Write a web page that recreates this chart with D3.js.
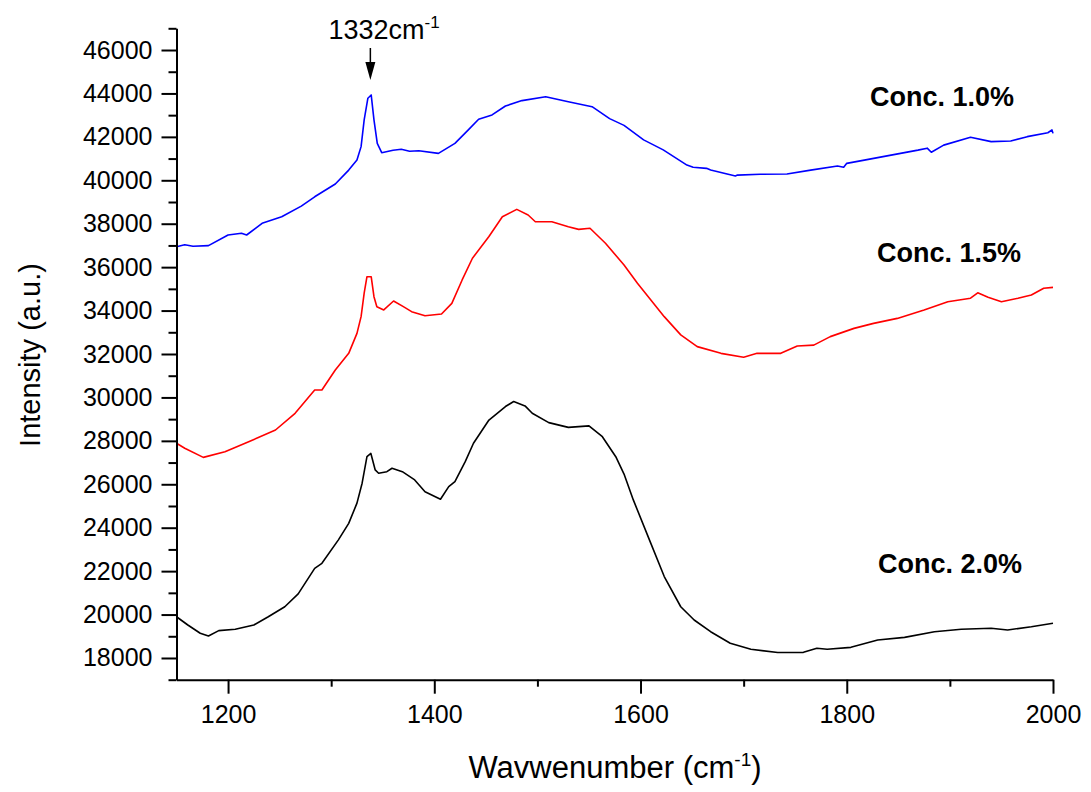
<!DOCTYPE html>
<html>
<head>
<meta charset="utf-8">
<script src="https://cdn.jsdelivr.net/npm/d3@7"></script>
<style>
  html, body { margin: 0; padding: 0; background: #ffffff; }
  svg { display: block; }
  text { font-family: Arial, "Liberation Sans", sans-serif; fill: #000; }
</style>
</head>
<body>
<svg id="chart" width="1091" height="792"></svg>
<script>
// Raman spectra of three samples: wavenumber (cm-1) and intensity (a.u.)
const wnConc10 = [1150,1158,1166,1181,1200,1213,1218,1233,1252,1271,1284,1304,1317,1325,1329,1332,1335.6,1338.8,1341.5,1344.7,1349,1360,1368,1376,1385,1404,1420,1433,1443,1456,1469,1485,1508,1530,1553,1570,1584,1603,1622,1645,1651,1664,1668,1692,1694,1716,1742,1765,1791,1797,1800,1817,1843,1869,1878,1882,1894,1920,1940,1959,1975,1995,1999,2000];
const intConc10 = [36940,37030,36960,36990,37480,37560,37480,38020,38320,38810,39240,39830,40470,40930,41550,42780,43780,43930,42780,41700,41270,41380,41430,41340,41360,41240,41700,42320,42810,43010,43420,43670,43850,43620,43390,42840,42530,41860,41400,40700,40600,40550,40470,40200,40240,40280,40290,40470,40660,40600,40780,40930,41160,41390,41480,41290,41620,41980,41780,41810,42010,42190,42320,42160];

const wnConc15 = [1150,1158,1176,1197,1220,1246,1265,1284,1291,1304,1317,1325,1329,1332,1334.7,1338.8,1341.5,1344.3,1351,1360.5,1370,1378,1391,1407,1417,1427,1437,1453,1466,1480,1491,1498,1514,1530,1540,1551,1566,1584,1597,1610,1623,1639,1655,1678,1700,1713,1736,1752,1768,1784,1807,1826,1849,1875,1898,1920,1927,1937,1950,1966,1979,1991,2000];
const intConc15 = [27890,27660,27240,27500,27960,28500,29270,30340,30340,31260,32030,32950,33720,34800,35560,35560,34640,34180,34030,34440,34180,33950,33760,33840,34330,35410,36410,37410,38320,38660,38400,38090,38090,37860,37740,37790,37100,36100,35260,34490,33720,32880,32340,32030,31850,32030,32030,32370,32410,32800,33180,33410,33640,34030,34410,34570,34820,34610,34410,34570,34720,35030,35070];

const wnConc20 = [1150,1161,1173,1181,1191,1207,1225,1239,1255,1268,1284,1291,1307,1317,1325,1330,1334.7,1338.5,1342.7,1346,1354,1359,1369,1381,1391,1406,1414,1420,1430,1438,1453,1469,1477,1488,1495,1511,1530,1550,1563,1576,1584,1593,1610,1623,1639,1652,1668,1687,1707,1733,1758,1771,1781,1804,1830,1856,1885,1911,1940,1956,1979,2000];
const intConc20 = [19900,19520,19140,19010,19260,19320,19520,19900,20360,20950,22130,22360,23440,24200,25130,26050,27270,27420,26660,26510,26580,26740,26580,26200,25660,25310,25890,26120,27040,27890,28960,29580,29810,29610,29270,28840,28620,28690,28190,27270,26470,25280,23280,21750,20360,19750,19210,18680,18400,18250,18260,18450,18400,18490,18830,18950,19210,19320,19370,19290,19440,19600];

// Axis ticks
const xMajorTicks = [1200,1400,1600,1800,2000];
const xMinorTicks = [1300,1500,1700,1900];
const yMajorTicks = [18000,20000,22000,24000,26000,28000,30000,32000,34000,36000,38000,40000,42000,44000,46000];
const yMinorTicks = [17000,19000,21000,23000,25000,27000,29000,31000,33000,35000,37000,39000,41000,43000,45000,47000];

// Series labels
const seriesNames = ["Conc. 1.0%", "Conc. 1.5%", "Conc. 2.0%"];
const seriesColors = ["#0000ff", "#ff0000", "#000000"];

const svg = d3.select("#chart");

const x = d3.scaleLinear().domain([1150, 2000]).range([176.5, 1053]);
const y = d3.scaleLinear().domain([17000, 47000]).range([679.7, 28.3]);

// Spectra
const series = [
  { wn: wnConc10, val: intConc10 },
  { wn: wnConc15, val: intConc15 },
  { wn: wnConc20, val: intConc20 }
];
const line = d3.line().x(d => x(d[0])).y(d => y(d[1]));
series.forEach((s, i) => {
  const pts = s.wn.map((w, k) => [w, s.val[k]]);
  svg.append("path")
    .datum(pts)
    .attr("d", line)
    .attr("fill", "none")
    .attr("stroke", seriesColors[i])
    .attr("stroke-width", 1.6)
    .attr("stroke-linejoin", "round");
});

// X axis
const xAxisG = svg.append("g").attr("transform", `translate(0,${y(17000)})`);
xAxisG.call(d3.axisBottom(x).tickValues(xMajorTicks).tickSize(14).tickSizeOuter(0).tickPadding(12).tickFormat(d3.format("d")));
xAxisG.append("g").call(d3.axisBottom(x).tickValues(xMinorTicks).tickSize(7).tickSizeOuter(0).tickFormat(""))
  .select(".domain").remove();

// Y axis
const yAxisG = svg.append("g").attr("transform", `translate(${x(1150)},0)`);
yAxisG.call(d3.axisLeft(y).tickValues(yMajorTicks).tickSize(15).tickSizeOuter(0).tickPadding(9).tickFormat(d3.format("d")));
yAxisG.append("g").call(d3.axisLeft(y).tickValues(yMinorTicks).tickSize(8).tickSizeOuter(0).tickFormat(""))
  .select(".domain").remove();

svg.selectAll(".domain").attr("stroke", "#000").attr("stroke-width", 2);
svg.selectAll(".tick line").attr("stroke", "#000").attr("stroke-width", 2);
svg.selectAll(".tick text").style("font-size", "25px").style("font-family", "Arial, 'Liberation Sans', sans-serif");

// Axis titles
const xTitle = svg.append("text")
  .attr("x", 615).attr("y", 778)
  .attr("text-anchor", "middle")
  .style("font-size", "31px");
xTitle.append("tspan").text("Wavwenumber (cm");
xTitle.append("tspan").attr("dy", -12).style("font-size", "19px").text("-1");
xTitle.append("tspan").attr("dy", 12).text(")");

svg.append("text")
  .attr("transform", "translate(40,355) rotate(-90)")
  .attr("text-anchor", "middle")
  .style("font-size", "29px")
  .text("Intensity (a.u.)");

// Peak annotation
const ann = svg.append("text")
  .attr("x", 384).attr("y", 39)
  .attr("text-anchor", "middle")
  .style("font-size", "27px");
ann.append("tspan").text("1332cm");
ann.append("tspan").attr("dy", -11).style("font-size", "17px").text("-1");

const ax = x(1338);
svg.append("line")
  .attr("x1", ax).attr("x2", ax).attr("y1", 48).attr("y2", 66)
  .attr("stroke", "#000").attr("stroke-width", 1.5);
svg.append("path")
  .attr("d", `M${ax - 5},62 L${ax + 5},62 L${ax},80 Z`)
  .attr("fill", "#000");

// Series labels
const labelPos = [[870, 106], [877, 262], [878, 573]];
seriesNames.forEach((n, i) => {
  svg.append("text")
    .attr("x", labelPos[i][0]).attr("y", labelPos[i][1])
    .style("font-size", "27px")
    .style("font-weight", "bold")
    .text(n);
});
</script>
</body>
</html>
